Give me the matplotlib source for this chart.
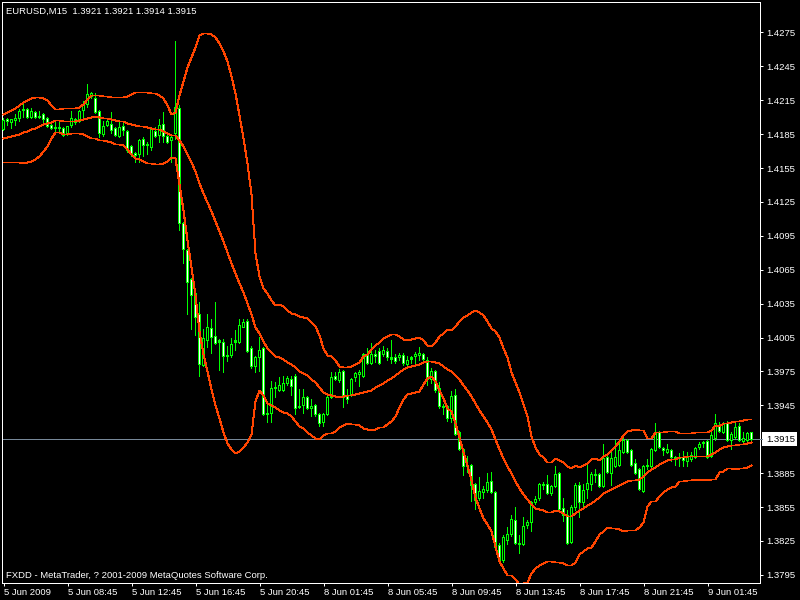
import matplotlib
matplotlib.use("Agg")
import matplotlib.pyplot as plt
from matplotlib.patches import Rectangle
from matplotlib.collections import PatchCollection
import numpy as np

plt.rcParams['font.family'] = ['Liberation Sans', 'DejaVu Sans']

title_text = "EURUSD,M15  1.3921 1.3921 1.3914 1.3915"
footer_text = "FXDD - MetaTrader, ? 2001-2009 MetaQuotes Software Corp."

opens = [1.4189, 1.4198, 1.4195, 1.4197, 1.4199, 1.4206, 1.4207, 1.4200, 1.4204, 1.4201,
         1.4202, 1.4199, 1.4193, 1.4190, 1.4191, 1.4190, 1.4185, 1.4193, 1.4198, 1.4196,
         1.4206, 1.4211, 1.4218, 1.4217, 1.4205, 1.4185, 1.4193, 1.4194, 1.4190, 1.4183,
         1.4192, 1.4187, 1.4174, 1.4168, 1.4167, 1.4180, 1.4176, 1.4173, 1.4187, 1.4184,
         1.4194, 1.4183, 1.4179, 1.4186, 1.4208, 1.4106, 1.4082, 1.4056, 1.4044, 1.4025,
         1.3980, 1.4002, 1.4013, 1.4006, 1.4002, 1.4001, 1.3988, 1.3989, 1.4001, 1.4001,
         1.4014, 1.4019, 1.3995, 1.3979, 1.3987, 1.3995, 1.3937, 1.3938, 1.3960, 1.3958,
         1.3958, 1.3964, 1.3968, 1.3971, 1.3943, 1.3945, 1.3952, 1.3942, 1.3945, 1.3937,
         1.3930, 1.3937, 1.3952, 1.3971, 1.3967, 1.3975, 1.3953, 1.3955, 1.3970, 1.3972,
         1.3971, 1.3989, 1.3982, 1.3990, 1.3993, 1.3990, 1.3993, 1.3987, 1.3987, 1.3987,
         1.3989, 1.3981, 1.3986, 1.3988, 1.3989, 1.3990, 1.3985, 1.3968, 1.3975, 1.3960,
         1.3943, 1.3944, 1.3933, 1.3954, 1.3921, 1.3906, 1.3891, 1.3892, 1.3875, 1.3863,
         1.3868, 1.3870, 1.3878, 1.3868, 1.3821, 1.3808, 1.3825, 1.3831, 1.3843, 1.3823,
         1.3822, 1.3839, 1.3841, 1.3859, 1.3863, 1.3874, 1.3875, 1.3867, 1.3873, 1.3885,
         1.3854, 1.3848, 1.3824, 1.3855, 1.3874, 1.3859, 1.3871, 1.3875, 1.3883, 1.3884,
         1.3873, 1.3899, 1.3885, 1.3891, 1.3892, 1.3903, 1.3914, 1.3905, 1.3894, 1.3888,
         1.3869, 1.3891, 1.3891, 1.3905, 1.3921, 1.3907, 1.3903, 1.3905, 1.3899, 1.3898,
         1.3899, 1.3895, 1.3897, 1.3899, 1.3908, 1.3911, 1.3913, 1.3900, 1.3916, 1.3927,
         1.3921, 1.3929, 1.3914, 1.3917, 1.3926, 1.3913, 1.3914, 1.3921]

highs = [1.4199, 1.4199, 1.4198, 1.4202, 1.4207, 1.4211, 1.4208, 1.4208, 1.4205, 1.4205,
         1.4203, 1.4200, 1.4196, 1.4195, 1.4195, 1.4191, 1.4192, 1.4205, 1.4199, 1.4206,
         1.4214, 1.4229, 1.4222, 1.4221, 1.4206, 1.4196, 1.4197, 1.4204, 1.4191, 1.4196,
         1.4196, 1.4188, 1.4175, 1.4169, 1.4180, 1.4182, 1.4178, 1.4191, 1.4191, 1.4198,
         1.4204, 1.4186, 1.4183, 1.4267, 1.4210, 1.4107, 1.4083, 1.4057, 1.4045, 1.4036,
         1.4012, 1.4025, 1.4021, 1.4036, 1.4003, 1.4003, 1.3997, 1.4004, 1.4011, 1.4021,
         1.4021, 1.4021, 1.3997, 1.3988, 1.4005, 1.3996, 1.3947, 1.3966, 1.3965, 1.3970,
         1.3971, 1.3971, 1.3971, 1.3972, 1.3959, 1.3959, 1.3953, 1.3950, 1.3946, 1.3938,
         1.3938, 1.3953, 1.3974, 1.3974, 1.3977, 1.3976, 1.3959, 1.3969, 1.3974, 1.3976,
         1.3991, 1.3995, 1.4000, 1.3994, 1.3995, 1.3997, 1.3995, 1.4002, 1.3990, 1.3991,
         1.3991, 1.3988, 1.3988, 1.3992, 1.3996, 1.3991, 1.3987, 1.3978, 1.3976, 1.3965,
         1.3946, 1.3945, 1.3957, 1.3959, 1.3922, 1.3907, 1.3900, 1.3893, 1.3876, 1.3881,
         1.3873, 1.3885, 1.3886, 1.3869, 1.3823, 1.3830, 1.3837, 1.3848, 1.3855, 1.3830,
         1.3846, 1.3843, 1.3860, 1.3864, 1.3876, 1.3877, 1.3883, 1.3874, 1.3891, 1.3886,
         1.3863, 1.3852, 1.3856, 1.3876, 1.3877, 1.3875, 1.3892, 1.3886, 1.3888, 1.3885,
         1.3910, 1.3900, 1.3903, 1.3914, 1.3915, 1.3916, 1.3915, 1.3906, 1.3897, 1.3889,
         1.3892, 1.3897, 1.3907, 1.3929, 1.3922, 1.3908, 1.3910, 1.3906, 1.3900, 1.3902,
         1.3904, 1.3903, 1.3903, 1.3908, 1.3912, 1.3913, 1.3914, 1.3922, 1.3937, 1.3930,
         1.3930, 1.3931, 1.3921, 1.3929, 1.3929, 1.3921, 1.3921, 1.3921]

lows = [1.4188, 1.4193, 1.4190, 1.4193, 1.4196, 1.4200, 1.4199, 1.4199, 1.4199, 1.4199,
        1.4195, 1.4191, 1.4189, 1.4187, 1.4186, 1.4183, 1.4184, 1.4191, 1.4194, 1.4195,
        1.4200, 1.4209, 1.4217, 1.4203, 1.4182, 1.4183, 1.4192, 1.4186, 1.4183, 1.4182,
        1.4184, 1.4169, 1.4165, 1.4160, 1.4160, 1.4165, 1.4167, 1.4171, 1.4182, 1.4178,
        1.4178, 1.4177, 1.4160, 1.4180, 1.4100, 1.4071, 1.4025, 1.4012, 1.4007, 1.3971,
        1.3979, 1.3996, 1.3991, 1.3999, 1.3976, 1.3974, 1.3984, 1.3987, 1.3994, 1.4000,
        1.4014, 1.3992, 1.3978, 1.3974, 1.3975, 1.3936, 1.3930, 1.3930, 1.3952, 1.3957,
        1.3957, 1.3963, 1.3954, 1.3937, 1.3942, 1.3938, 1.3941, 1.3935, 1.3935, 1.3926,
        1.3926, 1.3936, 1.3951, 1.3967, 1.3965, 1.3943, 1.3947, 1.3953, 1.3966, 1.3962,
        1.3970, 1.3981, 1.3981, 1.3983, 1.3981, 1.3988, 1.3985, 1.3982, 1.3982, 1.3985,
        1.3980, 1.3980, 1.3982, 1.3981, 1.3985, 1.3982, 1.3963, 1.3964, 1.3956, 1.3942,
        1.3937, 1.3931, 1.3930, 1.3918, 1.3905, 1.3883, 1.3886, 1.3860, 1.3853, 1.3861,
        1.3863, 1.3868, 1.3867, 1.3817, 1.3806, 1.3806, 1.3822, 1.3829, 1.3822, 1.3814,
        1.3821, 1.3836, 1.3833, 1.3857, 1.3861, 1.3871, 1.3866, 1.3865, 1.3872, 1.3852,
        1.3842, 1.3822, 1.3823, 1.3852, 1.3846, 1.3855, 1.3863, 1.3870, 1.3877, 1.3872,
        1.3872, 1.3885, 1.3874, 1.3890, 1.3891, 1.3902, 1.3902, 1.3891, 1.3884, 1.3870,
        1.3868, 1.3888, 1.3890, 1.3904, 1.3907, 1.3901, 1.3902, 1.3895, 1.3892, 1.3891,
        1.3891, 1.3891, 1.3895, 1.3898, 1.3906, 1.3908, 1.3898, 1.3899, 1.3914, 1.3921,
        1.3920, 1.3913, 1.3906, 1.3916, 1.3913, 1.3912, 1.3913, 1.3914]

closes = [1.4197, 1.4196, 1.4198, 1.4199, 1.4205, 1.4207, 1.4200, 1.4205, 1.4200, 1.4200,
          1.4198, 1.4192, 1.4190, 1.4191, 1.4190, 1.4184, 1.4192, 1.4199, 1.4195, 1.4205,
          1.4211, 1.4220, 1.4221, 1.4204, 1.4186, 1.4192, 1.4196, 1.4188, 1.4184, 1.4191,
          1.4188, 1.4171, 1.4168, 1.4166, 1.4179, 1.4175, 1.4175, 1.4189, 1.4183, 1.4193,
          1.4183, 1.4178, 1.4182, 1.4209, 1.4106, 1.4083, 1.4054, 1.4042, 1.4023, 1.3981,
          1.4004, 1.4014, 1.4005, 1.4000, 1.4001, 1.3988, 1.3989, 1.3999, 1.4002, 1.4016,
          1.4018, 1.3993, 1.3979, 1.3987, 1.3994, 1.3937, 1.3938, 1.3960, 1.3961, 1.3963,
          1.3964, 1.3969, 1.3962, 1.3942, 1.3944, 1.3952, 1.3942, 1.3944, 1.3937, 1.3929,
          1.3937, 1.3952, 1.3970, 1.3968, 1.3974, 1.3952, 1.3950, 1.3968, 1.3973, 1.3974,
          1.3990, 1.3982, 1.3990, 1.3988, 1.3982, 1.3994, 1.3987, 1.3986, 1.3984, 1.3989,
          1.3982, 1.3985, 1.3987, 1.3990, 1.3991, 1.3986, 1.3968, 1.3975, 1.3958, 1.3944,
          1.3944, 1.3933, 1.3953, 1.3919, 1.3906, 1.3891, 1.3892, 1.3874, 1.3861, 1.3869,
          1.3871, 1.3877, 1.3868, 1.3819, 1.3808, 1.3828, 1.3831, 1.3844, 1.3823, 1.3822,
          1.3838, 1.3841, 1.3859, 1.3862, 1.3875, 1.3875, 1.3867, 1.3873, 1.3884, 1.3853,
          1.3848, 1.3823, 1.3855, 1.3874, 1.3859, 1.3870, 1.3876, 1.3884, 1.3884, 1.3873,
          1.3898, 1.3886, 1.3898, 1.3899, 1.3905, 1.3914, 1.3903, 1.3892, 1.3885, 1.3871,
          1.3891, 1.3892, 1.3906, 1.3921, 1.3908, 1.3905, 1.3906, 1.3899, 1.3898, 1.3899,
          1.3896, 1.3899, 1.3901, 1.3907, 1.3910, 1.3912, 1.3899, 1.3918, 1.3929, 1.3922,
          1.3929, 1.3914, 1.3919, 1.3925, 1.3914, 1.3916, 1.3920, 1.3915]

# closes of the 19 bars before the first visible bar (needed for the Bollinger window)
prior_closes = [1.4187, 1.4182, 1.4176, 1.4180, 1.4185, 1.4178, 1.4172, 1.4176, 1.4170, 1.4165,
                1.4168, 1.4164, 1.4172, 1.4188, 1.4192, 1.4195, 1.4191, 1.4196, 1.4194]

time_labels = ["5 Jun 2009", "5 Jun 08:45", "5 Jun 12:45", "5 Jun 16:45", "5 Jun 20:45",
               "8 Jun 01:45", "8 Jun 05:45", "8 Jun 09:45", "8 Jun 13:45", "8 Jun 17:45",
               "8 Jun 21:45", "9 Jun 01:45"]
time_label_bars = [0, 16, 32, 48, 64, 80, 96, 112, 128, 144, 160, 176]
price_ticks = [1.4275, 1.4245, 1.4215, 1.4185, 1.4155, 1.4125, 1.4095, 1.4065, 1.4035,
               1.4005, 1.3975, 1.3945, 1.3885, 1.3855, 1.3825, 1.3795]
last_price = 1.3915
bb_period = 20
bb_dev = 2.0

W, H = 800, 600
PX = 72.0 / 100.0  # one pixel in points
LIME = '#00FF00'
BAND = '#FF4500'
FS = 6.8

fig = plt.figure(figsize=(8, 6), dpi=100, facecolor='black')
ax = fig.add_axes([2 / W, (H - 583) / H, 758 / W, 581 / H])
ax.set_facecolor('black')
ax.set_xlim(-0.375, 189.125)
ylo, yhi = 1.378783, 1.430199
ax.set_ylim(ylo, yhi)
dy = (yhi - ylo) / 581.0  # one pixel in price units
dx = 0.25                 # one pixel in bar units

n = len(closes)
x = np.arange(n)
o = np.array(opens); h = np.array(highs); l = np.array(lows); c = np.array(closes)

# Bollinger bands (SMA 20, 2 std)
allc = np.array(prior_closes + closes)
mid = np.array([allc[i:i + bb_period].mean() for i in range(n)])
sd = np.array([allc[i:i + bb_period].std() for i in range(n)])
upper = mid + bb_dev * sd
lower = mid - bb_dev * sd

# price line
ax.axhline(last_price, color='#778899', lw=PX, zorder=1, antialiased=False)

# wicks (1 px wide)
blo = np.minimum(o, c); bhi = np.maximum(o, c)
wicks = [Rectangle((i - dx / 2, l[i] - dy / 2), dx, h[i] - l[i] + dy) for i in range(n)]
ax.add_collection(PatchCollection(wicks, facecolor=LIME, edgecolor='none',
                                  antialiased=False, zorder=2))
# bodies: 3 px lime block with 1 px inner fill (white = bear, black = bull)
outer = [Rectangle((i - 1.5 * dx, blo[i] - dy / 2), 3 * dx, bhi[i] - blo[i] + dy)
         for i in range(n)]
ax.add_collection(PatchCollection(outer, facecolor=LIME, edgecolor='none',
                                  antialiased=False, zorder=3))
inner, icol = [], []
for i in range(n):
    if bhi[i] - blo[i] >= 2 * dy:
        inner.append(Rectangle((i - dx / 2, blo[i] + dy / 2), dx, bhi[i] - blo[i] - dy))
        icol.append('white' if c[i] < o[i] else 'black')
ax.add_collection(PatchCollection(inner, facecolor=icol, edgecolor='none',
                                  antialiased=False, zorder=3.5))

# bands, with vertices placed on pixel centres for crisp 1 px lines
inv = ax.transData.inverted()
for band in (upper, mid, lower):
    pts = ax.transData.transform(np.column_stack([x, band]))
    pts[:, 1] = np.floor(pts[:, 1]) + 0.5
    pts = inv.transform(pts)
    ax.plot(pts[:, 0], pts[:, 1], color=BAND, lw=PX, zorder=4, antialiased=False)

for s in ax.spines.values():
    s.set_color('white'); s.set_linewidth(PX)

ax.yaxis.tick_right()
ax.set_yticks(price_ticks)
ax.set_yticklabels([f"{v:.4f}" for v in price_ticks])
ax.tick_params(axis='y', direction='out', length=3 * PX, width=PX, colors='white',
               labelsize=FS, pad=2.2)
ax.set_xticks(time_label_bars)
ax.set_xticklabels(time_labels, ha='left')
ax.tick_params(axis='x', direction='out', length=3 * PX, width=PX, colors='white',
               labelsize=FS, pad=1.5)

# current price label box
ypix = ax.transData.transform((0, last_price))[1]
ax_right = ax.transAxes.transform((1, 0))[0]
fig.add_artist(plt.Line2D([ax_right / W, 762 / W], [ypix / H, ypix / H],
                          color='#778899', lw=PX, transform=fig.transFigure))
fig.add_artist(Rectangle((762 / W, (ypix - 7) / H), 35 / W, 14 / H, facecolor='white',
                         edgecolor='none', transform=fig.transFigure))
fig.text(766 / W, ypix / H, f"{last_price:.4f}", color='black', fontsize=FS,
         va='center', ha='left')

fig.text(6 / W, 1 - 11 / H, title_text, color='white', fontsize=FS, va='center', ha='left')
fig.text(6 / W, 1 - 575 / H, footer_text, color='white', fontsize=FS, va='center', ha='left')

fig.savefig('out.png', dpi=100, facecolor='black')
